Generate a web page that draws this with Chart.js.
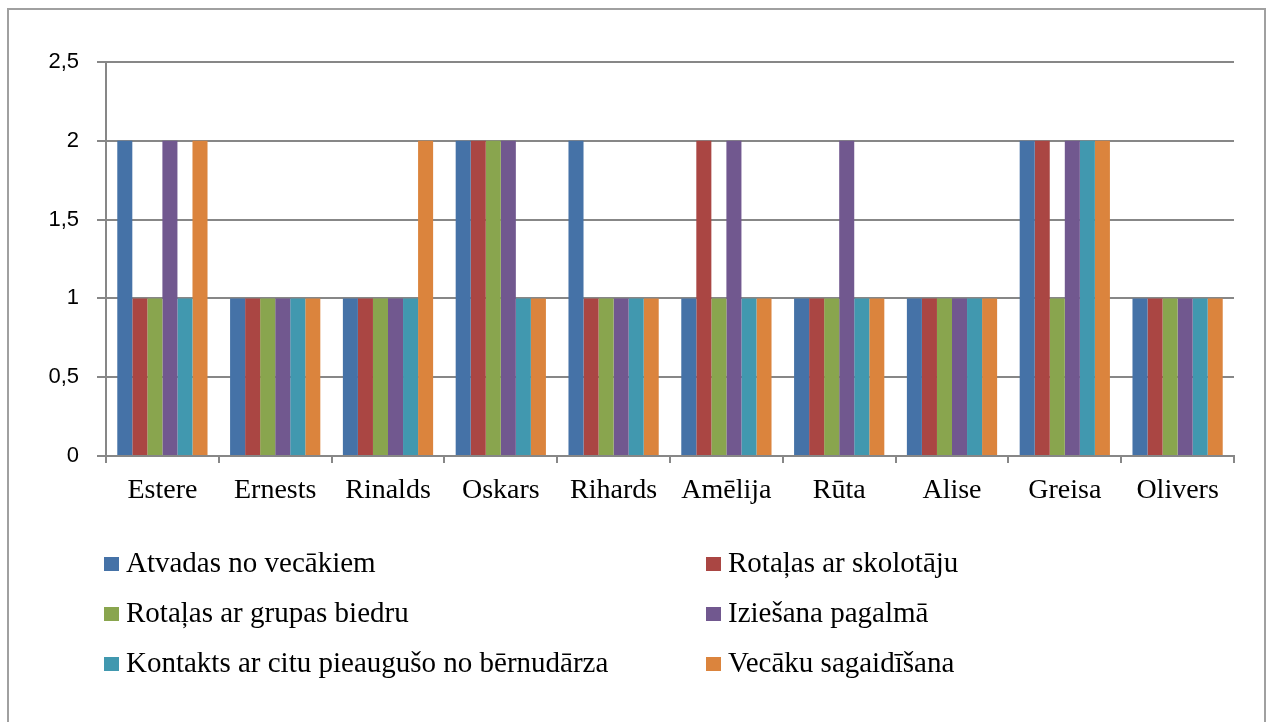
<!DOCTYPE html>
<html>
<head>
<meta charset="utf-8">
<script src="https://cdn.jsdelivr.net/npm/chart.js@4/dist/chart.umd.min.js"></script>
<style>
html,body{margin:0;padding:0;background:#fff;}
#wrap{position:relative;width:1272px;height:722px;overflow:hidden;background:#fff;}
#frame{position:absolute;left:7px;top:8px;width:1259px;height:740px;border:2px solid #a0a0a0;box-sizing:border-box;}
#c{position:absolute;left:0;top:0;}
#legend{position:absolute;left:0;top:0;width:1272px;height:722px;font-family:'Liberation Serif','Times New Roman',serif;font-size:29px;color:#000;}
.box{position:absolute;width:15px;height:14px;}
.lbl{position:absolute;white-space:nowrap;line-height:30px;}
</style>
</head>
<body>
<div id="wrap">
  <div id="frame"></div>
  <canvas id="c" width="1272" height="722"></canvas>
  <div id="legend"></div>
</div>
<script>
const categories = ['Estere','Ernests','Rinalds','Oskars','Rihards','Amēlija','Rūta','Alise','Greisa','Olivers'];
const seriesNames = ['Atvadas no vecākiem','Rotaļas ar skolotāju','Rotaļas ar grupas biedru','Iziešana pagalmā','Kontakts ar citu pieaugušo no bērnudārza','Vecāku sagaidīšana'];
const atvadas      = [2,1,1,2,2,1,1,1,2,1];
const skolotaju    = [1,1,1,2,1,2,1,1,2,1];
const grupasBiedru = [1,1,1,2,1,1,1,1,1,1];
const pagalma      = [2,1,1,2,1,2,2,1,2,1];
const kontakts     = [1,1,1,1,1,1,1,1,2,1];
const sagaidisana  = [2,1,2,1,1,1,1,1,2,1];
const yTicks = [0,0.5,1,1.5,2,2.5];
const colors = ['#4572A7','#AA4643','#89A54E','#71588F','#4198AF','#DB843D'];

const seriesValues = [atvadas, skolotaju, grupasBiedru, pagalma, kontakts, sagaidisana];
const datasets = seriesValues.map((vals,i)=>({
  label: seriesNames[i],
  data: vals,
  backgroundColor: colors[i],
  borderWidth: 0,
  categoryPercentage: 0.8,
  barPercentage: 1.0
}));

const gridCol = '#878787';
new Chart(document.getElementById('c'), {
  type: 'bar',
  data: { labels: categories, datasets },
  options: {
    responsive: false,
    animation: false,
    layout: { padding: { left: 0, top: 62, right: 38, bottom: 216 } },
    plugins: { legend: { display: false }, tooltip: { enabled: false } },
    scales: {
      x: {
        afterFit: s => { s.height = 50; },
        grid: { display: true, drawOnChartArea: false, drawTicks: true, tickLength: 7, offset: true, color: gridCol, lineWidth: 2 },
        border: { display: true, color: gridCol, width: 2 },
        ticks: { color: '#000', font: { family: "'Liberation Serif','Times New Roman',serif", size: 28 }, padding: 11, maxRotation: 0, autoSkip: false }
      },
      y: {
        min: 0, max: 2.5,
        afterFit: s => { s.width = 106; },
        afterBuildTicks: s => { s.ticks = yTicks.map(v => ({ value: v })); },
        grid: { color: gridCol, lineWidth: 2, drawTicks: true, tickLength: 9 },
        border: { display: true, color: gridCol, width: 2 },
        ticks: {
          color: '#000',
          font: { family: "'Liberation Sans', Arial, sans-serif", size: 22 },
          padding: 18,
          callback: v => String(v).replace('.', ',')
        }
      }
    }
  }
});

// HTML legend: two columns
const legend = document.getElementById('legend');
const colX = [{box:104, text:126}, {box:706, text:728}];
const rowBaseline = [572, 622, 672];
seriesNames.forEach((name, i) => {
  const col = colX[i % 2];
  const row = Math.floor(i / 2);
  const b = document.createElement('div');
  b.className = 'box';
  b.style.left = col.box + 'px';
  b.style.top = (rowBaseline[row] - 15) + 'px';
  b.style.background = colors[i];
  legend.appendChild(b);
  const t = document.createElement('div');
  t.className = 'lbl';
  t.textContent = name;
  t.style.left = col.text + 'px';
  t.style.top = (rowBaseline[row] - 25) + 'px';
  legend.appendChild(t);
});
</script>
</body>
</html>
